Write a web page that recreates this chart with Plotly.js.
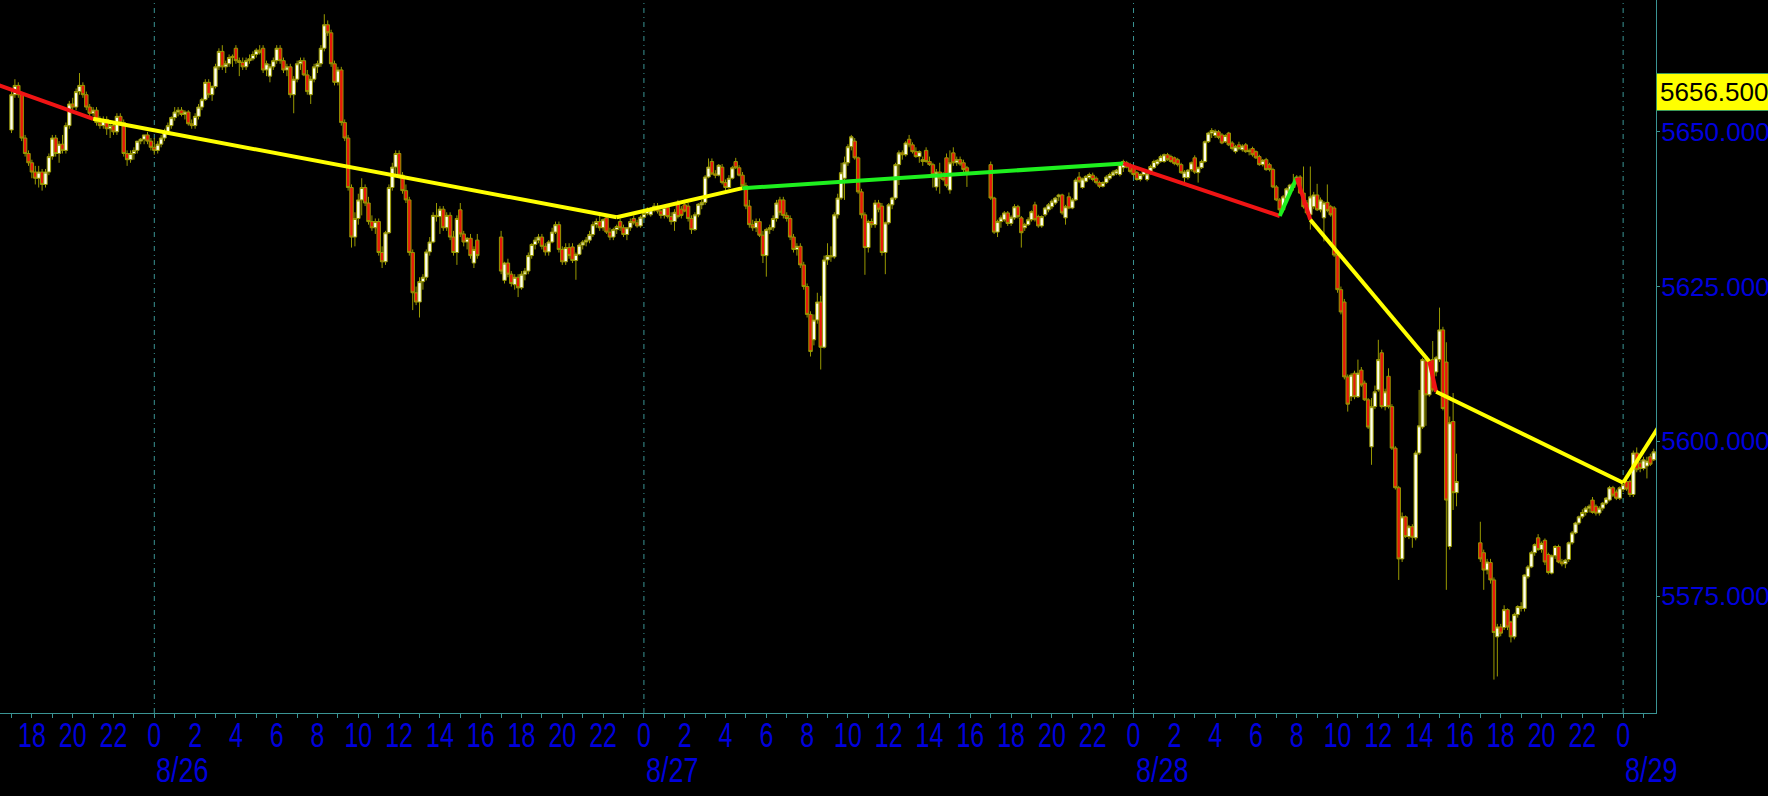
<!DOCTYPE html>
<html><head><meta charset="utf-8">
<script src="https://cdn.plot.ly/plotly-3.0.1.min.js"></script>
<style>html,body{margin:0;padding:0;background:#000;}#chart{width:1768px;height:796px;}</style>
</head><body><div id="chart"></div>
<script>
// ---- data: 10-minute bars, four trading sessions ----
const sessionStarts = ['2024-08-25 17:00','2024-08-26 17:00','2024-08-27 17:00','2024-08-28 17:00'];
const barMinutes = 10;

const s0Open = [5650.3,5656,5657.5,5656,5649,5646.5,5645,5643.5,5642.5,5643.5,
5641.5,5643.5,5646,5649,5646.5,5648,5647,5651,5654.5,5654,
5656.5,5657.5,5656,5654,5653,5653.5,5651.5,5651,5652,5650.5,
5651,5650,5652.5,5651.5,5646.5,5645.5,5646.5,5647,5648.5,5648.8,
5649.5,5648.5,
5647.5,5647,5648,5649,5650,5651,5652.3,5653.2,5653.5,5652.8,
5653.2,5651.3,5651,5652.5,5654,5655.2,5658,5656,5657.3,5660.5,
5663,5660.5,5661,5662,5663.5,5661.5,5661.2,5660.5,5661.5,5661.8,
5662.5,5663.2,5663.5,5660,5659,5660.5,5661.5,5663.5,5661.5,5660,
5660.5,5656,5658.5,5661,5661.5,5659.2,5656,5658.5,5660.5,5661,
5663.5,5667.3,5666,5661,5658,5660,5651.5,5649,5641,5633,
5636,5639,5641,5638.5,5635.5,5634.5,5635.5,5630.5,5629,5633.7,
5641,5644.3,5646.5,5643,5640.5,5639,5630.5,5624,5622.5,5625.8,
5626.5,5630.6,5632.2,5636.5,5636.3,5637.5,5634.5,5636.5,5633,5630.5,
5637.4,5633.5,5632.2,5632.8,5628.8,5632.5];
const s0High = [5657,5658.5,5658,5656.5,5649.5,5647,5645.5,5644.5,5644.5,5644,
5644,5646.5,5649.5,5649.5,5648.5,5649.5,5651.5,5655,5655.5,5657,
5659.5,5658,5656.5,5654.5,5654,5654,5652.5,5652.5,5652.5,5651.5,
5651.5,5653,5653,5652,5647,5647,5647.5,5648.5,5649,5649.5,
5650,5649,
5649,5648.5,5649.5,5650.5,5651.5,5652.5,5654,5654,5654,5653.5,
5653.5,5652,5653,5654.5,5655.5,5658.5,5658.5,5657.5,5661,5663.5,
5664,5661.5,5662.5,5662.5,5664,5662,5662,5662,5662.5,5663,
5663.5,5664,5664,5661.5,5661,5662,5664,5664,5662,5661,
5661,5659,5661.5,5662,5662,5660,5659,5661,5661.5,5664,
5669,5668,5666.5,5661.5,5660.5,5660.5,5652,5649.5,5641.5,5637,
5640,5642.5,5641.5,5639.5,5636.5,5636,5636,5631.5,5634,5641.5,
5645,5647,5647,5643.5,5641.5,5639.5,5631,5625,5626.5,5627,
5631,5633,5637,5638.5,5638,5638,5637,5637,5634,5636.5,
5638.5,5634,5633,5633.5,5631.5,5633.5];
const s0Low = [5649.8,5655.5,5655.5,5648.5,5646,5644.5,5642.5,5641.5,5641,5640.5,
5641,5643,5645.5,5646,5645,5646.5,5646.5,5650.5,5653.5,5653.5,
5656,5655.5,5653.5,5652.5,5652.5,5651,5650.5,5650.5,5649.5,5649,
5649.5,5649.5,5651,5646,5644.5,5645,5645.5,5646.5,5648,5648,
5648,5647,
5646.3,5646.5,5647.5,5648.5,5649.5,5650.5,5651.8,5652.5,5652.5,5652,
5651,5650.5,5650.5,5652,5653.5,5655,5655.5,5655,5657,5660,
5660,5659.5,5660.5,5660.5,5661,5659,5660,5660,5661,5661.5,
5662,5662.5,5659.5,5659,5658,5660,5661,5661,5659.5,5659,
5655.5,5653,5658,5660,5659,5656,5654.5,5658,5659.5,5660.5,
5663,5665.5,5660.5,5657.5,5657.5,5651,5648.5,5640.5,5631.3,5631.5,
5635,5636.5,5638,5635,5634,5633.5,5630,5628,5628.5,5633.5,
5640.5,5643,5642.5,5640,5638.5,5630,5621.2,5622,5620,5624.5,
5626,5630,5632,5635.5,5633.5,5634,5634,5632.5,5630,5628.5,
5633,5631.5,5631,5629.5,5628,5629.5];
const s0Close = [5656,5657.5,5656,5649,5646.5,5645,5643.5,5642.5,5643.5,5641.5,
5643.5,5646,5649,5646.5,5648,5647,5651,5654.5,5654,5656.5,
5657.5,5656,5654,5653,5653.5,5651.5,5651,5652,5650.5,5651,
5650,5652.5,5651.5,5646.5,5645.5,5646.5,5647,5648.5,5648.8,5649.5,
5648.5,5647.5,
5647,5648,5649,5650,5651,5652.3,5653.2,5653.5,5652.8,5653.2,
5651.3,5651,5652.5,5654,5655.2,5658,5656,5657.3,5660.5,5663,
5660.5,5661,5662,5662.2,5661.5,5661.2,5660.5,5661.5,5661.8,5662.5,
5663.2,5662.8,5660,5661,5660.5,5661.5,5663.5,5661.5,5660,5660.5,
5656,5658.5,5661,5661.5,5659.2,5656.5,5658.5,5660.5,5661,5663.5,
5667.3,5666,5661,5658,5660,5651.5,5649,5641,5633,5636,
5639,5641,5638.5,5635.5,5634.5,5635.5,5630.5,5629,5633.7,5641,
5644.3,5646.5,5643,5640.5,5639,5630.5,5624,5622.5,5625.8,5626.5,
5630.6,5632.2,5636.5,5636.3,5637.5,5634.5,5636.5,5633,5630.5,5636,
5633.5,5632.2,5632.8,5630,5631,5630];

const s1Open = [5633,5626,5628.8,5627,5625.3,5626.5,5624.8,5627,5627.5,5630,
5631.8,5632.5,5633,5631.5,5630.6,5632.2,5633.8,5635,5631,5629,
5631.3,5631.4,5629.2,5630.2,5631.7,5632.2,5632.5,5633.4,5635,5635.5,
5634.5,5636.1,5633.8,5633,5634.2,5635.5,5634.5,5633.4,5634.5,5636,
5635.3,5634.8,5636.2,5636.8,5636.6,5637.4,5638,5637.2,5636.5,5637.8,
5636.3,5635.5,5638.3,5637.5,5638.2,5638,5636,5634.2,5636.6,5638.2,
5638.6,5642.7,5645.2,5643.2,5643,5644.3,5641.8,5641,5642.5,5645.2,
5644.2,5643,5641.3,5638,5635,5634.5,5635.5,5633.3,5630,5634.2,
5634.5,5636,5639,5639,5636.5,5636,5633,5631,5631.5,5628.5,
5625,5620.5,5616.4,5619.6,5622.5,5615.2,5629.3,5630,5629.8,5636.6,
5639.3,5642.5,5645,5647.6,5648.5,5645.8,5640.3,5636.6,5631.3,5635.5,
5635,5638.5,5638,5630.5,5635.3,5638.2,5639.3,5644.7,5646.6,5646.3,
5648.8,5647.9,5646.8,5646,5645.2,5647,5645.2,5644.7,5641.1,5643.5,
5643,5645.8,5640.6,5646.6,5645,5645.5,5645,5644.2];
const s1High = [5634,5629,5629.5,5627.5,5627,5627,5627.5,5628,5630.5,5632,
5633,5633.5,5633.5,5632,5632.5,5634.5,5635.5,5635.5,5631.5,5632,
5632,5632,5630.5,5632,5632.5,5633,5634,5635.5,5636,5636.5,
5636,5636.5,5634.5,5634.5,5635,5636,5635,5634.5,5636,5636.5,
5635.8,5636.5,5637,5637.8,5637.8,5638.5,5638.5,5638,5638,5638.3,
5637,5637.5,5639,5638,5639,5638.5,5636.5,5637,5638.5,5639,
5643,5645.7,5645.7,5643.8,5644.8,5644.8,5642.3,5643,5644.5,5645.8,
5644.6,5643.5,5641.8,5639,5635.8,5636,5636,5634,5634.5,5635,
5636.5,5639,5639.5,5639.5,5637,5636.5,5633.5,5632,5632,5629,
5625.5,5621,5620.5,5624,5623.5,5630,5632,5631.5,5637,5640,
5645,5646,5648,5649.5,5649,5646,5640.8,5637,5635.8,5636,
5639,5639,5638.5,5635.5,5638.5,5639.5,5645,5647,5647,5648.5,
5649.5,5648.3,5647.5,5647,5646,5647.5,5646,5645,5644,5645,
5643.5,5646.5,5647,5647.5,5646,5646,5645.5,5644.5];
const s1Low = [5627,5625.5,5626.5,5625,5624.5,5623.3,5624.5,5626,5627,5629.5,
5631,5632,5631,5630,5630,5632,5633.5,5630.5,5628.5,5628.5,
5629.5,5628.8,5626.1,5630,5631,5631.5,5632,5633,5634.5,5634,
5634,5633.5,5632.5,5632.5,5633.5,5634,5633,5632.5,5634,5635,
5634.5,5634.5,5636,5636.5,5636.3,5637,5636.8,5636,5636,5636,
5635,5634,5636,5636,5637,5635.5,5633.5,5634,5636.2,5637.5,
5638.2,5642.5,5643,5642.5,5642.8,5641.5,5640.5,5640.8,5642.3,5644,
5642.8,5641,5637.5,5634.5,5634,5633.8,5633,5628.8,5626.6,5633.5,
5634,5635.5,5636.5,5636,5635.5,5632.5,5630.5,5630,5628,5624.5,
5620,5613.7,5615.5,5619,5611.6,5615,5628.5,5629,5629.5,5636,
5639,5639,5644.5,5647,5645.5,5640,5636,5626.9,5630.5,5634.5,
5634.5,5637,5630,5627,5635,5637.5,5639,5641.4,5645.5,5646,
5647.5,5646.5,5645.8,5645,5644.5,5645,5644.5,5641,5640.5,5640,
5642,5641,5640,5644.5,5644.5,5644.5,5643.5,5641.1];
const s1Close = [5627.5,5628.8,5627,5625.5,5626.5,5624.8,5627,5627.5,5630,5631.8,
5632.5,5633,5631.5,5630.6,5632.2,5633.8,5635,5631,5629,5631.3,
5630,5629.2,5630.2,5631.7,5632.2,5632.5,5633.4,5635,5635.5,5634.5,
5635.8,5633.8,5633,5634.2,5634.7,5634.5,5633.4,5634.5,5635.5,5635.3,
5634.8,5636.2,5636.8,5637.5,5637.4,5638,5637.2,5636.5,5637.8,5636.3,
5635.5,5637,5636.3,5636.5,5637.2,5636,5634.2,5636.6,5638.3,5638.6,
5642.7,5644.3,5643.2,5643,5644.6,5641.8,5641,5642.5,5644.2,5644.2,
5643,5641.3,5638,5635,5634.5,5635.5,5633.3,5630,5634.2,5634.5,
5636,5638.5,5637,5636.5,5636,5633,5631,5631.5,5628.5,5625,
5620.5,5614.5,5619.6,5622.5,5615.2,5629.3,5630,5629.8,5636.6,5639.3,
5643.4,5645,5647.6,5649.2,5645.8,5640.3,5636.6,5631.3,5635.5,5635,
5638.5,5637.5,5630.5,5635.3,5638.2,5639.3,5644.7,5646.6,5646.3,5648.2,
5647.9,5646.8,5646,5646.8,5645.5,5645.2,5644.7,5643.1,5643.5,5642.5,
5642.3,5641.3,5645,5645,5645.5,5644.8,5643.9,5643.5];

const s2Open = [5644.7,5639.3,5633.8,5635.5,5635.8,5636.9,5635.2,5636.1,5637.9,5636.1,
5634.5,5635,5635.8,5638.2,5636.3,5634.8,5636.6,5637.4,5637.9,5638.5,
5639.5,5639.8,5636.1,5639.5,5637.7,5639,5642.7,5641,5642,5642.6,
5643,5642.5,5641.8,5641.2,5641.8,5642.5,5643,5643.3,5643.1,5644.2,
5645,5644.6,5644.4,5643.4,5642.3,5643.1,5642.3,5643.4,5644.2,5644.8,
5645.2,5645.2,5646.3,5646,5645.8,5645.5,5644.7,5642.6,5642.6,5643.9,
5645.8,5643.4,5644.2,5645.2,5648.4,5649.8,5649.4,5650,5649.5,5648.4,
5649.8,5648.2,5646.8,5647.9,5647.1,5647.9,5646.8,5647.3,5646.8,5646,
5644.7,5645.5,5644.7,5643.9,5641.1,5639,5637.4,5639.2,5640.3,5641.6,
5641.8,5642.7,5640.1,5638.5,5636.6,5637.9,5639.8,5637.4,5636.1,5638.6,
5637.9,5637.7,5630.1,5624.5,5622.5,5610.4,5607.2,5611,5607.2,5611.5,
5609.4,5606.7,5599.1,5605.6,5608.3,5614.3,5605.6,5610.5,5605.6,5598.9,
5592.5,5581,5587.8,5584.6,5586.2,5584.4,5598.1,5602.3,5613,5607.5,
5613.2,5611.2,5613.2,5618,5612.8,5583,5603.2,5591.7];
const s2High = [5645.2,5639.5,5635.8,5636.5,5637.2,5637.2,5636.5,5638.3,5638.2,5636.4,
5635.3,5636.2,5637.3,5638.7,5636.6,5636.5,5637.9,5638.5,5639.1,5639.5,
5640,5640,5638.2,5640.2,5639.3,5642.5,5643.5,5642.6,5643,5643.4,
5643.4,5642.8,5642.1,5642,5643,5643.4,5643.8,5644,5645,5645.5,
5645.3,5645,5644.7,5643.7,5643.3,5644,5643.5,5644.7,5645.5,5645.6,
5646.3,5646.5,5646.6,5646.3,5646,5645.8,5645,5643.8,5644,5645.2,
5646.2,5644.4,5645.5,5648.6,5650,5650.6,5650.4,5650.3,5649.8,5649.6,
5650,5648.5,5647.9,5648.4,5648,5648.2,5647.3,5647.6,5647,5646.3,
5645.6,5645.8,5645,5644.2,5641.4,5639.3,5639.8,5641,5641.6,5643.2,
5643,5643,5644.4,5639,5644.4,5640.3,5641.6,5639.4,5638.8,5641.5,
5638.2,5638,5630.5,5625,5623,5610.8,5611,5611.4,5613.2,5612,
5609.8,5607,5607,5609,5616.4,5614.8,5608.5,5611.8,5606,5599.2,
5592.8,5588.5,5588,5586.5,5586.6,5598.5,5608.3,5613.5,5613.5,5612.9,
5616.2,5613.8,5621.6,5618.5,5616,5604,5607.8,5598];
const s2Low = [5639,5633.5,5633,5634.5,5635.5,5634.8,5634.8,5635.8,5636,5631.3,
5634,5634.8,5635.5,5635.5,5634.5,5634.5,5636.3,5637,5637.5,5638.2,
5638.8,5636.6,5635,5637.5,5637.5,5638.8,5641.7,5640.8,5641.8,5642.3,
5642,5641.5,5640.9,5641,5641.6,5642.2,5642.8,5643,5642.8,5643.5,
5644.1,5643.3,5642.8,5642.1,5642,5642.8,5642,5643.1,5644,5644.5,
5645,5645,5645.3,5645,5644.6,5644.4,5643.2,5641.8,5642.3,5643.6,
5643.2,5641.8,5644,5645,5648.2,5649,5649,5648.8,5648,5648.2,
5647.7,5647,5646.5,5647,5646.8,5646.6,5646.2,5646,5645.6,5644.5,
5644.4,5643.7,5643.6,5640.9,5638.8,5636.6,5637,5639,5640,5640.5,
5641.5,5640,5637.6,5636.6,5634.2,5637.5,5637.2,5637,5632.3,5637,
5636.3,5629.8,5624,5620.5,5610,5604.8,5606.5,5606.8,5607,5608.8,
5606.5,5602,5596.2,5605.2,5608,5605.3,5605,5605.3,5598.6,5592.2,
5577.6,5580.5,5584.4,5584.2,5582.8,5584,5597.8,5602,5602.5,5607.2,
5608,5610.5,5612.8,5605,5576,5582.5,5588.9,5589.5];
const s2Close = [5639.3,5633.8,5635.5,5636.1,5636.9,5635.2,5636.2,5637.9,5636.3,5633.7,
5635,5635.8,5637.1,5635.8,5634.8,5636.3,5637.7,5638.2,5638.8,5639.3,
5639.8,5636.9,5637.9,5637.7,5639,5642.2,5642,5642.4,5642.8,5643.1,
5642.3,5641.8,5641.2,5641.8,5642.7,5643.1,5643.5,5643.8,5644.7,5645.2,
5644.3,5643.6,5643.1,5642.3,5643.1,5643.8,5643.2,5644.4,5645.2,5645.4,
5646,5646.3,5645.5,5645.2,5644.9,5644.7,5643.4,5643.5,5643.8,5645,
5643.5,5644.2,5645.2,5648.4,5649.8,5650.2,5650.1,5649.1,5648.2,5649.4,
5647.9,5647.3,5647.6,5647.3,5647.7,5646.8,5647,5646.3,5645.8,5644.7,
5645.4,5643.9,5643.9,5641.1,5639,5637.4,5639.5,5640.8,5641.4,5641,
5642.7,5640.1,5637.9,5636.9,5639.5,5639.8,5637.4,5639,5638.5,5637.3,
5636.6,5630.1,5624.5,5620.9,5610.4,5606,5610.7,5607.2,5611,5609.1,
5606.7,5602.3,5605.6,5608,5613.2,5605.6,5608,5605.6,5598.9,5592.5,
5581,5587.8,5584.6,5586.2,5584.5,5598.1,5602.5,5613.2,5607.5,5612.7,
5608.3,5613.5,5618,5605.3,5590.5,5603,5591.7,5593.5];

const s3Open = [5583.6,5582,5579.2,5580.4,5577.6,5568.4,5570,5569.9,5572.8,5570.8,
5568.4,5572,5573.3,5573,5578.1,5579.7,5582,5584.4,5582.5,5584,
5581.7,5578.7,5581.5,5583,5580.5,5580.2,5580.9,5583.6,5585.2,5586.8,
5587.8,5588.5,5589.2,5590.5,5589.5,5588.4,5589.2,5590,5590.5,5592.5,
5591.8,5590.8,5592.2,5593.5,5593.5,5591.4,5598.1,5596.5,5595.6,5596,
5597.5,5597];
const s3High = [5587,5582.5,5581,5581,5578,5570.5,5570.5,5573.5,5573,5571,
5572.3,5573.5,5574,5578.5,5580,5582.3,5583.5,5585,5583.8,5584.3,
5582,5581.7,5583.2,5583.3,5581,5581,5583.8,5585.5,5587,5588,
5589,5589.5,5589.8,5591,5589.8,5589.5,5590.2,5591,5592.8,5592.8,
5592.2,5592.7,5593.2,5594,5593.8,5598.5,5599,5597,5597.5,5597.5,
5598,5598.8];
const s3Low = [5580.5,5576,5578.5,5577,5561.5,5562,5568.5,5569.5,5569.5,5567.5,
5568,5571.5,5572.5,5572.5,5577.8,5579.5,5581.5,5582.3,5582,5580,
5578.5,5578.5,5581,5580.3,5579.8,5579.5,5580.5,5583.3,5585,5586.5,
5587.5,5588,5588.5,5588.3,5588,5588,5588.8,5589.7,5590.3,5591,
5590.5,5590.5,5591.8,5592,5591,5591,5595,5595,5595.3,5594,
5596,5596.8];
const s3Close = [5581,5579.2,5580.5,5577.6,5569.1,5570,5569,5572.8,5570,5568.4,
5572,5573.3,5573,5578.4,5579.7,5582,5583.3,5582.5,5583.5,5580.5,
5578.8,5581.5,5583,5580.5,5580.2,5580.8,5583.6,5585.2,5586.8,5587.8,
5588.5,5589.2,5589.5,5588.5,5588.4,5589.2,5590,5590.8,5592.5,5591.3,
5590.8,5592.5,5593,5592.3,5591.4,5598.1,5595.4,5595.6,5597,5596.8,
5596.3,5598.3];

// overlay trend segments (vertices and colour of each segment)
const lineTimes = ['2024-08-25 16:20','2024-08-25 21:00','2024-08-26 22:40','2024-08-27 04:50',
  '2024-08-27 23:30','2024-08-28 07:10','2024-08-28 08:00','2024-08-28 08:40',
  '2024-08-28 14:30','2024-08-28 14:50','2024-08-29 00:00','2024-08-29 01:50'];
const linePrices = [5657.6,5652.1,5636.2,5640.9,5644.9,5636.4,5642.6,5635.8,5612.9,5608.0,5593.3,5602.8];
const segColors = ['red','yellow','yellow','green','red','green','red','yellow','red','yellow','yellow'];

// axis labels
const yTicks = [5575, 5600, 5625, 5650];
const yTickText = ['5575.000','5600.000','5625.000','5650.000'];
const dayStarts = ['2024-08-26 00:00','2024-08-27 00:00','2024-08-28 00:00','2024-08-29 00:00'];
const dayLabels = ['8/26','8/27','8/28','8/29'];
const markPrice = 5656.5;
const markText = '5656.500';

// ---- build ----
function sessionTimes(start, n) {
  const [d, t] = start.split(' ');
  const [Y, M, D] = d.split('-').map(Number);
  const [h, mi] = t.split(':').map(Number);
  const base = Date.UTC(Y, M - 1, D, h, mi);
  const out = [];
  for (let i = 0; i < n; i++) {
    out.push(new Date(base + i * barMinutes * 60000).toISOString().slice(0, 16).replace('T', ' '));
  }
  return out;
}
const sessions = [
  [s0Open, s0High, s0Low, s0Close],
  [s1Open, s1High, s1Low, s1Close],
  [s2Open, s2High, s2Low, s2Close],
  [s3Open, s3High, s3Low, s3Close]
];
let X = [], O = [], H = [], L = [], C = [];
sessions.forEach((s, i) => {
  const n = Math.min(s[0].length, s[1].length, s[2].length, s[3].length);
  X = X.concat(sessionTimes(sessionStarts[i], n));
  O = O.concat(s[0].slice(0, n)); H = H.concat(s[1].slice(0, n));
  L = L.concat(s[2].slice(0, n)); C = C.concat(s[3].slice(0, n));
});

const axisColor = '#3a9494';
const labelBlue = '#0000dc';
const colorMap = { red: '#f01414', yellow: '#ffff00', green: '#1ef01e' };
const sansFont = 'Liberation Sans, Arial, sans-serif';

const traces = [{
  type: 'candlestick', x: X, open: O, high: H, low: L, close: C,
  increasing: { line: { color: '#999900', width: 1 }, fillcolor: '#ffffee' },
  decreasing: { line: { color: '#999900', width: 1 }, fillcolor: '#e8180c' },
  whiskerwidth: 0, hoverinfo: 'skip', showlegend: false
}];
for (let i = 0; i < segColors.length; i++) {
  traces.push({
    type: 'scatter', mode: 'lines',
    x: [lineTimes[i], lineTimes[i + 1]], y: [linePrices[i], linePrices[i + 1]],
    line: { color: colorMap[segColors[i]], width: 4 },
    hoverinfo: 'skip', showlegend: false
  });
}

const shapes = dayStarts.map(d => ({
  type: 'line', xref: 'x', yref: 'paper', x0: d, x1: d, y0: 0, y1: 1, layer: 'below',
  line: { color: axisColor, width: 1, dash: '5px,4px,1px,4px' }
}));
const annotations = dayStarts.map((d, i) => ({
  x: d, xref: 'x', y: -0.08, yref: 'paper', xanchor: 'left', yanchor: 'middle',
  text: dayLabels[i], showarrow: false,
  font: { family: sansFont, size: 27, color: labelBlue }
}));
annotations.push({
  x: 1, xref: 'paper', y: markPrice, yref: 'y', xanchor: 'left', yanchor: 'middle',
  text: markText, showarrow: false, bgcolor: '#ffff00', bordercolor: '#3c9a5a', borderwidth: 1, borderpad: 3,
  font: { family: sansFont, size: 26, color: '#000000' }
});

const layout = {
  width: 1768, height: 796,
  paper_bgcolor: '#000000', plot_bgcolor: '#000000',
  margin: { l: 0, r: 112, t: 0, b: 83, pad: 0 },
  showlegend: false, boxgap: 0, boxgroupgap: 0,
  xaxis: {
    type: 'date', range: ['2024-08-25 16:26:10', '2024-08-29 01:36:40'],
    rangeslider: { visible: false }, fixedrange: true,
    tick0: '2024-08-26 00:00', dtick: 7200000, tickformat: '%-H',
    ticks: 'outside', ticklen: 4, tickwidth: 1, tickcolor: axisColor,
    showline: true, linecolor: axisColor, linewidth: 1, showgrid: false, zeroline: false,
    tickfont: { family: sansFont, size: 25, color: labelBlue },
    minor: { dtick: 3600000, ticks: 'outside', ticklen: 4, tickcolor: axisColor, showgrid: false }
  },
  yaxis: {
    side: 'right', range: [5556.1, 5671.3], fixedrange: true,
    tickvals: yTicks, ticktext: yTickText,
    ticks: 'outside', ticklen: 3, tickwidth: 1, tickcolor: axisColor, ticklabelstandoff: -4,
    showline: true, linecolor: axisColor, linewidth: 1, showgrid: false, zeroline: false,
    tickfont: { family: sansFont, size: 26, color: labelBlue }
  },
  shapes: shapes, annotations: annotations
};

// the reference uses tall, narrow lettering under the time axis: stretch those labels vertically
function stretchText(el, targetCenterY, s) {
  const bb = el.getBBox();
  const r = el.getBoundingClientRect();
  const cy = bb.y + bb.height / 2;
  const d = targetCenterY - (r.top + r.height / 2);
  const base = el.getAttribute('transform') || '';
  el.setAttribute('transform', base + ' translate(0,' + (cy + d) + ') scale(1,' + s + ') translate(0,' + (-cy) + ')');
}
Plotly.newPlot('chart', traces, layout, { displayModeBar: false, staticPlot: true }).then(() => {
  document.querySelectorAll('.xtick text').forEach(el => stretchText(el, 735, 1.37));
  document.querySelectorAll('.annotation-text').forEach(el => {
    if (dayLabels.indexOf(el.textContent) >= 0) stretchText(el, 771, 1.27);
  });
});
</script></body></html>
